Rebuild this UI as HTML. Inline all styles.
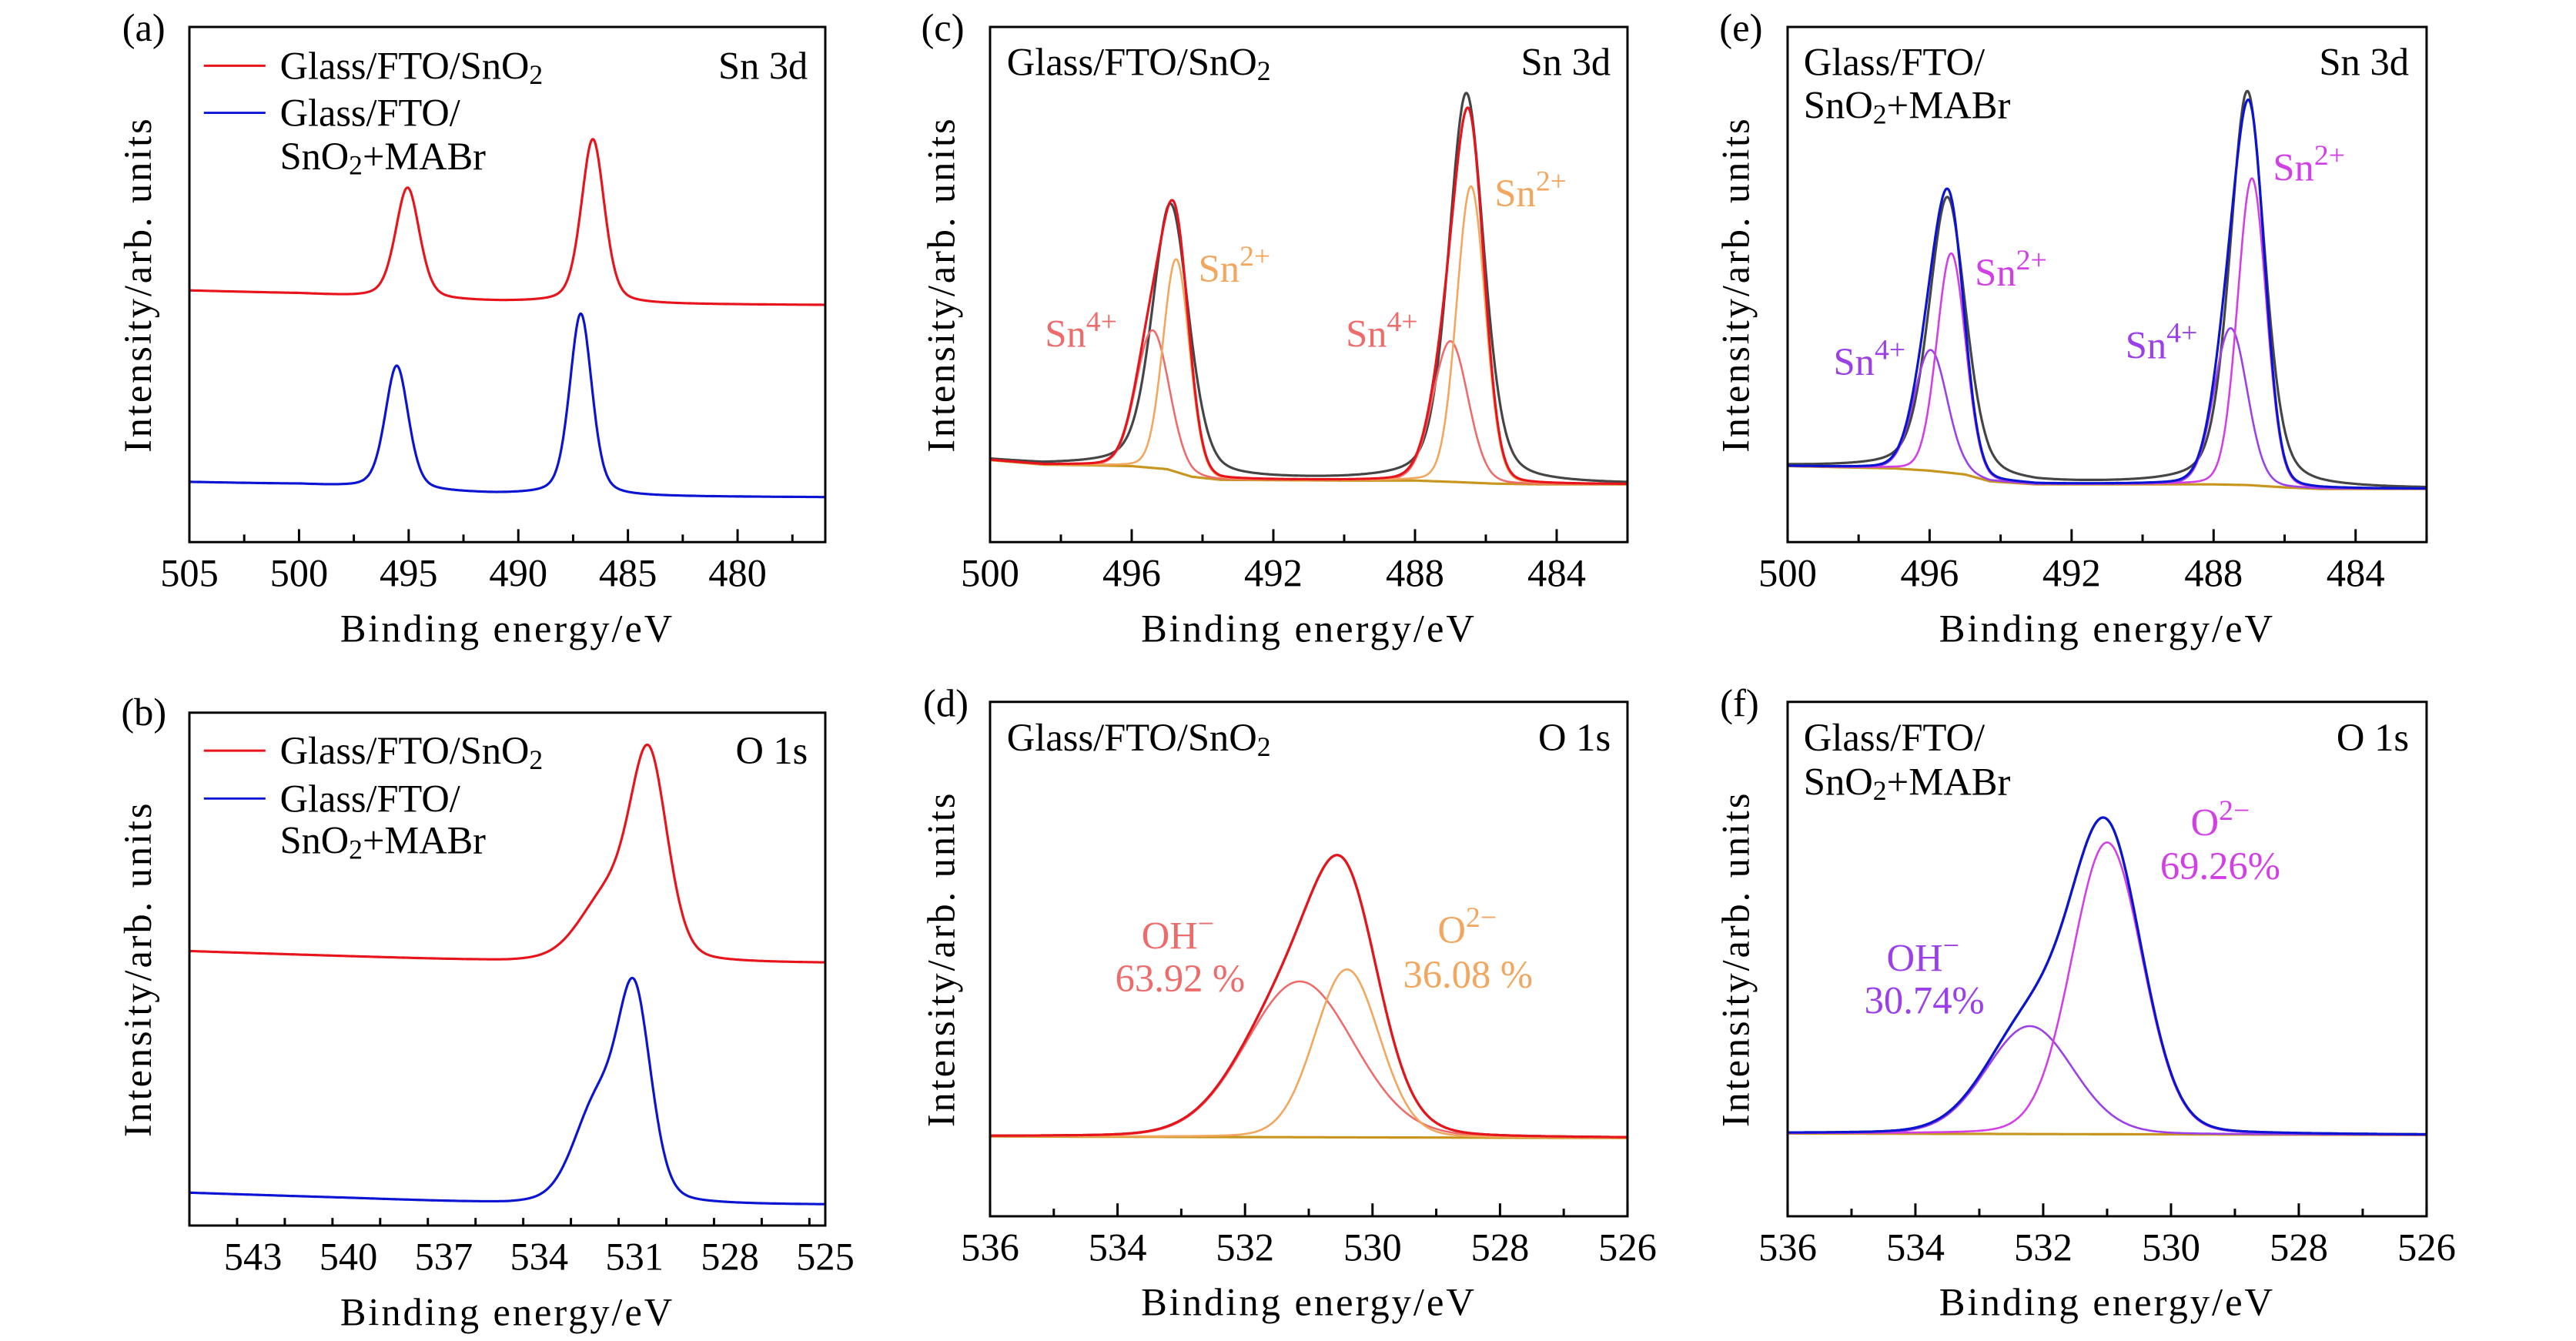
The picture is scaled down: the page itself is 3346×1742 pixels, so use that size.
<!DOCTYPE html>
<html><head><meta charset="utf-8"><style>
html,body{margin:0;padding:0;background:#fff;}
svg{display:block;}
text{font-family:"Liberation Serif",serif;fill:#000;}
</style></head><body>
<svg id="fig" width="3346" height="1742" viewBox="0 0 3346 1742" xmlns="http://www.w3.org/2000/svg"></svg>
<script>
// ---------- DATA (eV, intensity in a.u.) ----------
// (a) Sn 3d survey
const aRedBgE=[505,500,497.5,496,494,491,488,485,476];
const aRedBgI=[331,327,323,322,318,316,315,313,312];
const aRedPkC=[495.05,486.6];
const aRedPkH=[146,216];
const aRedPkW=[1.3,1.25];
const aBlueBgE=[505,500,497.5,496,494,491,488,485,476];
const aBlueBgI=[79,76,72,71,66,63,62,60,59];
const aBluePkC=[495.54,487.15];
const aBluePkH=[162,239];
const aBluePkW=[1.25,1.2];
// (b) O 1s survey
const bRedBgE=[545,540,535,533,529,525];
const bRedBgI=[361,354,347,347,345,345];
const bRedPkC=[530.55,531.9];
const bRedPkH=[262,80];
const bRedPkW=[1.4,2.0];
const bBlueBgE=[545,540,535,533,529,525];
const bBlueBgI=[43,36,28,28,27,27];
const bBluePkC=[531.0,532.2];
const bBluePkH=[262,125];
const bBluePkW=[1.25,1.7];
// (c) Sn 3d fit, Glass/FTO/SnO2
const cBgE=[500,498.5,497,496,495,494.3,493.5,490,488,486.8,485.8,484.5,482];
const cBgI=[108,102,101,100,96,86,82,81,81,79,77,76,76];
const cSn4C=[495.41,487.0];
const cSn4H=[181,185];
const cSn4W=[1.1,1.17];
const cSn2C=[494.74,486.42];
const cSn2H=[280,390];
const cSn2W=[0.88,0.95];
const cRawC=[494.9,486.55];
const cRawH=[350,512];
const cRawW=[1.22,1.18];
// (d) O 1s fit, Glass/FTO/SnO2
const dBgE=[536,526];
const dBgI=[105,103];
const dOHC=[531.14]; const dOHH=[205]; const dOHW=[2.0];
const dO2C=[530.4];  const dO2H=[221]; const dO2W=[1.2];
// (e) Sn 3d fit, Glass/FTO/SnO2+MABr
const eBgE=[500,497,496,495,494.3,493,488,487,486,485,482];
const eBgI=[100,97,94,89,80,76,76,75,72,70,70];
const eSn4C=[495.97,487.52];
const eSn4H=[159,206];
const eSn4W=[1.1,1.1];
const eSn2C=[495.39,486.92];
const eSn2H=[289,404];
const eSn2W=[0.95,0.95];
const eRawC=[495.5,487.05];
const eRawH=[362,518];
const eRawW=[1.22,1.15];
// (f) O 1s fit, Glass/FTO/SnO2+MABr
const fBgE=[536,526];
const fBgI=[109,107];
const fOHC=[532.21]; const fOHH=[142]; const fOHW=[1.6];
const fO2C=[531.0];  const fO2H=[384]; const fO2W=[1.3];
// tick labels
const abTicksA=[505,500,495,490,485,480];
const abTicksB=[543,540,537,534,531,528,525];
const snTicks=[500,496,492,488,484];
const oTicks=[536,534,532,530,528,526];

// ---------- helpers ----------
const NS="http://www.w3.org/2000/svg";
const svg=document.getElementById('fig');
function el(tag,attrs,parent){const e=document.createElementNS(NS,tag);for(const k in attrs)e.setAttribute(k,attrs[k]);(parent||svg).appendChild(e);return e;}
function bgAt(E,I,x){
  if(x>=E[0])return I[0];
  for(let i=0;i<E.length-1;i++){if(x<=E[i]&&x>=E[i+1]){const t=(E[i]-x)/(E[i]-E[i+1]);return I[i]+t*(I[i+1]-I[i]);}}
  return I[I.length-1];
}
function pv(x,c,h,w,eta){const u=(x-c)/w;return h*((1-eta)*Math.exp(-4*Math.LN2*u*u)+eta/(1+4*u*u));}
function peakSum(x,C,H,W,eta){let s=0;for(let i=0;i<C.length;i++)s+=pv(x,C[i],H[i],W[i],eta);return s;}

function makePanel(cfg){
  const g=el('g',{transform:cfg.tf});
  
  
  const X=v=>cfg.x0+(cfg.d0-v)/(cfg.d0-cfg.d1)*(cfg.x1-cfg.x0);
  const Y=v=>cfg.y1-v;
  cfg.X=X;cfg.Y=Y;cfg.g=g;
  for(let v=cfg.d0;v>=cfg.d1-1e-6;v-=cfg.minor){
    const rem=Math.abs(((cfg.tickBase-v)/cfg.major)%1);
    const isMajor=rem<1e-6||Math.abs(rem-1)<1e-6;
    const t=el('line',{x1:X(v),x2:X(v),y1:cfg.y1,y2:cfg.y1-(isMajor?17:10),stroke:'#000','stroke-width':3},g);
    
    
  }
  cfg.ticks.forEach(v=>{
    const t=el('text',{x:X(v),y:cfg.tickY,'font-size':51,'text-anchor':'middle','dominant-baseline':'central'},g);
    t.textContent=String(v);
    
    
  });
  const xl=el('text',{x:(cfg.x0+cfg.x1)/2,y:cfg.xlY,'font-size':51,'letter-spacing':3,'text-anchor':'middle','dominant-baseline':'central'},g);
  xl.textContent='Binding energy/eV';
  
  
  const yc=(cfg.y0+cfg.y1)/2;
  const yl=el('text',{x:cfg.ylX,y:yc,'font-size':51,'letter-spacing':3,'text-anchor':'middle','dominant-baseline':'central',transform:`rotate(-90 ${cfg.ylX} ${yc})`},g);
  yl.textContent='Intensity/arb. units';
  
  
  const pl=el('text',{x:cfg.plX,y:cfg.plY,'font-size':51,'text-anchor':'middle','dominant-baseline':'central'},g);
  pl.textContent=cfg.label;
  
  
  return cfg;
}
function drawBox(cfg){
  const b=el('rect',{x:cfg.x0,y:cfg.y0,width:cfg.x1-cfg.x0,height:cfg.y1-cfg.y0,fill:'none',stroke:'#000','stroke-width':3},cfg.g);
  
  
}
function curve(cfg,fn,color,name,w){
  let d='';const step=(cfg.d0-cfg.d1)/800;
  for(let i=0;i<=800;i++){const x=cfg.d0-i*step;d+=(i?'L':'M')+cfg.X(x).toFixed(1)+' '+cfg.Y(fn(x)).toFixed(1);}
  const p=el('path',{d:d,fill:'none',stroke:color,'stroke-width':w||3.2,'stroke-linejoin':'round'},cfg.g);
  
  
  return p;
}
function label(cfg,x,y,parts,color,anchor,name){
  const t=el('text',{x:x,y:y,'font-size':51,'text-anchor':anchor||'start','dominant-baseline':'central',fill:color||'#000'},cfg.g);
  parts.forEach(p=>{const s=el('tspan',{},t);
    if(p.sub){s.setAttribute('font-size',36);s.setAttribute('dy',12);}
    if(p.sup){s.setAttribute('font-size',38);s.setAttribute('dy',-16);}
    if(p.back){s.setAttribute('dy',p.back);}
    s.setAttribute('fill',color||'#000');
    s.textContent=p.t;});
  
  
  return t;
}
const RED='#e8141c',BLUE='#0a14d2',GRAY='#454545',BG='#c8961e';
const SALMON='#ee6b6b',ORANGE='#f2a65e',PURPLE='#9b40e8',MAGENTA='#d23fe6';
const TF_A='translate(0,-1.5) scale(0.988,0.987)';
const TF_B='translate(0,13.8) scale(0.988,0.987)';
const TF_C='translate(8.8,-1.5) scale(0.9916,0.987)';
const TF_D='translate(8.8,13.6) scale(0.9916,0.987)';
const TF_E='translate(12.7,-1.5) scale(0.9928,0.987)';
const TF_F='translate(12.7,13.6) scale(0.9928,0.987)';

// ---------- panel (a) ----------
const A=makePanel({tf:TF_A,name:'panel-a-sn3d',label:'(a)',x0:249,x1:1085,y0:37,y1:715,d0:505,d1:476,major:5,minor:2.5,tickBase:505,ticks:abTicksA,tickY:756,xlY:829,ylX:181,plX:189,plY:38});
curve(A,x=>bgAt(aRedBgE,aRedBgI,x)+peakSum(x,aRedPkC,aRedPkH,aRedPkW,0.35),RED,'series-glass-fto-sno2');
curve(A,x=>bgAt(aBlueBgE,aBlueBgI,x)+peakSum(x,aBluePkC,aBluePkH,aBluePkW,0.35),BLUE,'series-glass-fto-sno2-mabr');
drawBox(A);
{const l1=el('line',{x1:268,x2:349,y1:88,y2:88,stroke:RED,'stroke-width':3},A.g);
 const l2=el('line',{x1:268,x2:349,y1:150,y2:150,stroke:BLUE,'stroke-width':3},A.g);}
label(A,368,88,[{t:'Glass/FTO/SnO'},{t:'2',sub:1}],'#000','start','legend-entry-sno2');
label(A,368,150,[{t:'Glass/FTO/'}],'#000','start','legend-entry-sno2-mabr');
label(A,368,207,[{t:'SnO'},{t:'2',sub:1},{t:'+MABr',back:-12}],'#000','start','legend-entry-sno2-mabr-line2');
label(A,1062,88,[{t:'Sn 3d'}],'#000','end','core-level-label');

// ---------- panel (b) ----------
const B=makePanel({tf:TF_B,name:'panel-b-o1s',label:'(b)',x0:249,x1:1085,y0:924,y1:1599,d0:545,d1:525,major:3,minor:1.5,tickBase:543,ticks:abTicksB,tickY:1640,xlY:1713,ylX:181,plX:189,plY:923});
curve(B,x=>bgAt(bRedBgE,bRedBgI,x)+peakSum(x,bRedPkC,bRedPkH,bRedPkW,0.25),RED,'series-glass-fto-sno2');
curve(B,x=>bgAt(bBlueBgE,bBlueBgI,x)+peakSum(x,bBluePkC,bBluePkH,bBluePkW,0.25),BLUE,'series-glass-fto-sno2-mabr');
drawBox(B);
{const l1=el('line',{x1:268,x2:349,y1:974,y2:974,stroke:RED,'stroke-width':3},B.g);
 const l2=el('line',{x1:268,x2:349,y1:1037,y2:1037,stroke:BLUE,'stroke-width':3},B.g);}
label(B,368,974,[{t:'Glass/FTO/SnO'},{t:'2',sub:1}],'#000','start','legend-entry-sno2');
label(B,368,1037,[{t:'Glass/FTO/'}],'#000','start','legend-entry-sno2-mabr');
label(B,368,1092,[{t:'SnO'},{t:'2',sub:1},{t:'+MABr',back:-12}],'#000','start','legend-entry-sno2-mabr-line2');
label(B,1062,974,[{t:'O 1s'}],'#000','end','core-level-label');

// ---------- panel (c) ----------
const Cp=makePanel({tf:TF_C,name:'panel-c-sn3d-fit-sno2',label:'(c)',x0:1288,x1:2123,y0:37,y1:715,d0:500,d1:482,major:4,minor:2,tickBase:500,ticks:snTicks,tickY:756,xlY:829,ylX:1224,plX:1226,plY:38});
curve(Cp,x=>bgAt(cBgE,cBgI,x)+peakSum(x,cRawC,cRawH,cRawW,0.35),GRAY,'raw-data');
curve(Cp,x=>bgAt(cBgE,cBgI,x),BG,'background');
curve(Cp,x=>bgAt(cBgE,cBgI,x)+peakSum(x,cSn4C,cSn4H,cSn4W,0.1),SALMON,'component-sn4',2.6);
curve(Cp,x=>bgAt(cBgE,cBgI,x)+peakSum(x,cSn2C,cSn2H,cSn2W,0.1),ORANGE,'component-sn2',2.6);
curve(Cp,x=>bgAt(cBgE,cBgI,x)+peakSum(x,cSn4C,cSn4H,cSn4W,0.1)+peakSum(x,cSn2C,cSn2H,cSn2W,0.1),RED,'fit-envelope');
drawBox(Cp);
label(Cp,1310,83,[{t:'Glass/FTO/SnO'},{t:'2',sub:1}],'#000','start','sample-label');
label(Cp,2101,83,[{t:'Sn 3d'}],'#000','end','core-level-label');
label(Cp,1360,441,[{t:'Sn'},{t:'4+',sup:1}],SALMON,'start','sn4-label-3d3');
label(Cp,1561,355,[{t:'Sn'},{t:'2+',sup:1}],ORANGE,'start','sn2-label-3d3');
label(Cp,1754,441,[{t:'Sn'},{t:'4+',sup:1}],SALMON,'start','sn4-label-3d5');
label(Cp,1949,256,[{t:'Sn'},{t:'2+',sup:1}],ORANGE,'start','sn2-label-3d5');

// ---------- panel (d) ----------
const D=makePanel({tf:TF_D,name:'panel-d-o1s-fit-sno2',label:'(d)',x0:1288,x1:2123,y0:910,y1:1587,d0:536,d1:526,major:2,minor:1,tickBase:536,ticks:oTicks,tickY:1628,xlY:1700,ylX:1224,plX:1230,plY:912});
curve(D,x=>bgAt(dBgE,dBgI,x)+peakSum(x,dOHC,dOHH,dOHW,0.1)+peakSum(x,dO2C,dO2H,dO2W,0.1),GRAY,'raw-data');
curve(D,x=>bgAt(dBgE,dBgI,x),BG,'background');
curve(D,x=>bgAt(dBgE,dBgI,x)+peakSum(x,dOHC,dOHH,dOHW,0.1),SALMON,'component-oh',2.6);
curve(D,x=>bgAt(dBgE,dBgI,x)+peakSum(x,dO2C,dO2H,dO2W,0.1),ORANGE,'component-o2',2.6);
curve(D,x=>bgAt(dBgE,dBgI,x)+peakSum(x,dOHC,dOHH,dOHW,0.1)+peakSum(x,dO2C,dO2H,dO2W,0.1),RED,'fit-envelope');
drawBox(D);
label(D,1310,957,[{t:'Glass/FTO/SnO'},{t:'2',sub:1}],'#000','start','sample-label');
label(D,2101,957,[{t:'O 1s'}],'#000','end','core-level-label');
label(D,1534,1218,[{t:'OH'},{t:'−',sup:1}],SALMON,'middle','oh-label');
label(D,1537,1274,[{t:'63.92 %'}],SALMON,'middle','oh-percent');
label(D,1913,1210,[{t:'O'},{t:'2−',sup:1}],ORANGE,'middle','o2-label');
label(D,1914,1269,[{t:'36.08 %'}],ORANGE,'middle','o2-percent');

// ---------- panel (e) ----------
const E=makePanel({tf:TF_E,name:'panel-e-sn3d-fit-mabr',label:'(e)',x0:2326,x1:3162,y0:37,y1:715,d0:500,d1:482,major:4,minor:2,tickBase:500,ticks:snTicks,tickY:756,xlY:829,ylX:2258,plX:2265,plY:38});
curve(E,x=>bgAt(eBgE,eBgI,x)+peakSum(x,eRawC,eRawH,eRawW,0.35),GRAY,'raw-data');
curve(E,x=>bgAt(eBgE,eBgI,x),BG,'background');
curve(E,x=>bgAt(eBgE,eBgI,x)+peakSum(x,eSn4C,eSn4H,eSn4W,0.1),PURPLE,'component-sn4',2.6);
curve(E,x=>bgAt(eBgE,eBgI,x)+peakSum(x,eSn2C,eSn2H,eSn2W,0.1),MAGENTA,'component-sn2',2.6);
curve(E,x=>bgAt(eBgE,eBgI,x)+peakSum(x,eSn4C,eSn4H,eSn4W,0.1)+peakSum(x,eSn2C,eSn2H,eSn2W,0.1),BLUE,'fit-envelope');
drawBox(E);
label(E,2347,83,[{t:'Glass/FTO/'}],'#000','start','sample-label');
label(E,2347,140,[{t:'SnO'},{t:'2',sub:1},{t:'+MABr',back:-12}],'#000','start','sample-label-line2');
label(E,3139,83,[{t:'Sn 3d'}],'#000','end','core-level-label');
label(E,2386,478,[{t:'Sn'},{t:'4+',sup:1}],PURPLE,'start','sn4-label-3d3');
label(E,2571,360,[{t:'Sn'},{t:'2+',sup:1}],MAGENTA,'start','sn2-label-3d3');
label(E,2768,456,[{t:'Sn'},{t:'4+',sup:1}],PURPLE,'start','sn4-label-3d5');
label(E,2961,222,[{t:'Sn'},{t:'2+',sup:1}],MAGENTA,'start','sn2-label-3d5');

// ---------- panel (f) ----------
const F=makePanel({tf:TF_F,name:'panel-f-o1s-fit-mabr',label:'(f)',x0:2326,x1:3162,y0:910,y1:1587,d0:536,d1:526,major:2,minor:1,tickBase:536,ticks:oTicks,tickY:1628,xlY:1700,ylX:2258,plX:2263,plY:912});
curve(F,x=>bgAt(fBgE,fBgI,x)+peakSum(x,fOHC,fOHH,fOHW,0.1)+peakSum(x,fO2C,fO2H,fO2W,0.1),GRAY,'raw-data');
curve(F,x=>bgAt(fBgE,fBgI,x),BG,'background');
curve(F,x=>bgAt(fBgE,fBgI,x)+peakSum(x,fOHC,fOHH,fOHW,0.1),PURPLE,'component-oh',2.6);
curve(F,x=>bgAt(fBgE,fBgI,x)+peakSum(x,fO2C,fO2H,fO2W,0.1),MAGENTA,'component-o2',2.6);
curve(F,x=>bgAt(fBgE,fBgI,x)+peakSum(x,fOHC,fOHH,fOHW,0.1)+peakSum(x,fO2C,fO2H,fO2W,0.1),BLUE,'fit-envelope');
drawBox(F);
label(F,2347,957,[{t:'Glass/FTO/'}],'#000','start','sample-label');
label(F,2347,1015,[{t:'SnO'},{t:'2',sub:1},{t:'+MABr',back:-12}],'#000','start','sample-label-line2');
label(F,3139,957,[{t:'O 1s'}],'#000','end','core-level-label');
label(F,2892,1069,[{t:'O'},{t:'2−',sup:1}],MAGENTA,'middle','o2-label');
label(F,2892,1126,[{t:'69.26%'}],MAGENTA,'middle','o2-percent');
label(F,2503,1247,[{t:'OH'},{t:'−',sup:1}],PURPLE,'middle','oh-label');
label(F,2505,1303,[{t:'30.74%'}],PURPLE,'middle','oh-percent');
</script>
</body></html>
